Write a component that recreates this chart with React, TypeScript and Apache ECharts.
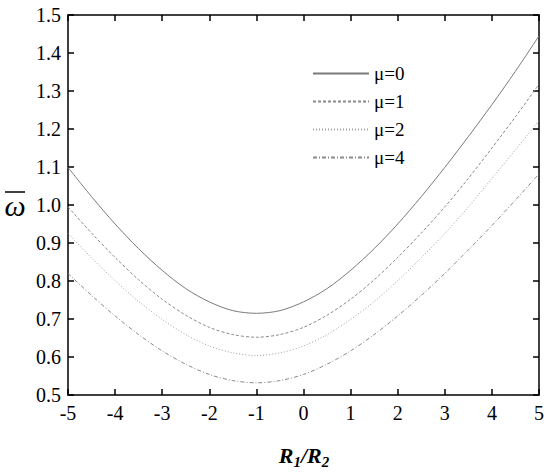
import React, { useEffect, useRef } from "react";
import * as echarts from "echarts";

const xValues = [-5, -4.5, -4, -3.5, -3, -2.5, -2, -1.5, -1, -0.5, 0, 0.5, 1, 1.5, 2, 2.5, 3, 3.5, 4, 4.5, 5];
const mu0 = [1.099, 1.022, 0.95, 0.885, 0.828, 0.78, 0.745, 0.722, 0.715, 0.722, 0.745, 0.78, 0.828, 0.885, 0.95, 1.022, 1.099, 1.18, 1.264, 1.352, 1.445];
const mu1 = [0.995, 0.926, 0.862, 0.803, 0.752, 0.71, 0.678, 0.659, 0.652, 0.659, 0.678, 0.71, 0.752, 0.803, 0.862, 0.926, 0.995, 1.07, 1.15, 1.232, 1.318];
const mu2 = [0.925, 0.861, 0.801, 0.746, 0.699, 0.659, 0.629, 0.611, 0.604, 0.611, 0.629, 0.659, 0.699, 0.746, 0.801, 0.861, 0.925, 0.995, 1.07, 1.145, 1.222];
const mu4 = [0.82, 0.762, 0.708, 0.659, 0.616, 0.581, 0.554, 0.538, 0.532, 0.538, 0.554, 0.581, 0.616, 0.659, 0.708, 0.762, 0.82, 0.882, 0.946, 1.013, 1.082];
const seriesNames = ["μ=0", "μ=1", "μ=2", "μ=4"];

const FONT = "Liberation Serif";
const labelRich = { t: { fontFamily: FONT, fontSize: 20, color: "#000", fill: "#000" } };
const legendRich = { t: { fontFamily: FONT, fontSize: 19, color: "#000", fill: "#000" } };

export default function App() {
  const ref = useRef<HTMLDivElement>(null);

  useEffect(() => {
    if (!ref.current) return;
    const chart = echarts.init(ref.current, null, { renderer: "svg" });
    const all = [mu0, mu1, mu2, mu4];
    const dashes: any[] = ["solid", [3, 2], [1, 2], [4, 2, 1, 2]];
    const colors = ["#7a7a7a", "#8a8a8a", "#a0a0a0", "#8a8a8a"];

    const axisCommon = {
      type: "value" as const,
      axisLine: { show: true, onZero: false, lineStyle: { color: "#000", width: 1.5 } },
      axisTick: { show: true, inside: true, length: 6, lineStyle: { color: "#000", width: 1.5 } },
      splitLine: { show: false },
    };

    chart.setOption({
      animation: false,
      backgroundColor: "#fff",
      textStyle: { fontFamily: FONT },
      grid: { left: 68, right: 11, top: 15, bottom: 80, containLabel: false },
      legend: {
        orient: "vertical",
        left: 307,
        top: 59,
        itemWidth: 56,
        itemHeight: 14,
        itemGap: 9,
        data: seriesNames,
        itemStyle: { opacity: 0 },
        formatter: (n: string) => `{t|${n}}`,
        textStyle: { fontFamily: FONT, fontSize: 19, color: "#000", rich: legendRich },
      },
      xAxis: [
        {
          ...axisCommon,
          min: -5,
          max: 5,
          interval: 1,
          position: "bottom",
          axisLabel: {
            show: true,
            margin: 8,
            fontFamily: FONT,
            fontSize: 20,
            color: "#000",
            formatter: (v: number) => `{t|${v}}`,
            rich: labelRich,
          },
        },
        {
          ...axisCommon,
          min: -5,
          max: 5,
          interval: 1,
          position: "top",
          axisLabel: { show: false },
        },
      ],
      yAxis: [
        {
          ...axisCommon,
          min: 0.5,
          max: 1.5,
          interval: 0.1,
          position: "left",
          axisLabel: {
            show: true,
            margin: 7,
            fontFamily: FONT,
            fontSize: 20,
            color: "#000",
            formatter: (v: number) => `{t|${v.toFixed(1)}}`,
            rich: labelRich,
          },
        },
        {
          ...axisCommon,
          min: 0.5,
          max: 1.5,
          interval: 0.1,
          position: "right",
          axisLabel: { show: false },
        },
      ],
      series: all.map((vals, i) => ({
        name: seriesNames[i],
        type: "line",
        xAxisIndex: 0,
        yAxisIndex: 0,
        smooth: 0.3,
        symbol: "none",
        showSymbol: false,
        data: xValues.map((x, j) => [x, vals[j]]),
        lineStyle: { color: colors[i], width: 1, type: dashes[i] },
        itemStyle: { color: colors[i] },
      })),
      graphic: [
        {
          type: "text",
          x: 15,
          y: 203,
          style: {
            text: "{o| }\n{w|ω}",
            align: "center",
            verticalAlign: "middle",
            rich: {
              o: { width: 20, height: 1.5, lineHeight: 4, backgroundColor: "#000", fontSize: 1 },
              w: { fontFamily: FONT, fontStyle: "italic", fontSize: 30, lineHeight: 22, fill: "#000" },
            },
          },
        },
        {
          type: "text",
          x: 304,
          y: 455,
          style: {
            text: "{r|R}{s|1}{r|/R}{s|2}",
            align: "center",
            verticalAlign: "middle",
            rich: {
              r: {
                fontFamily: FONT,
                fontStyle: "italic",
                fontWeight: "bold",
                fontSize: 22,
                lineHeight: 28,
                fill: "#000",
              },
              s: {
                fontFamily: FONT,
                fontStyle: "italic",
                fontWeight: "bold",
                fontSize: 15,
                lineHeight: 15,
                verticalAlign: "bottom",
                fill: "#000",
              },
            },
          },
        },
      ],
    });

    return () => chart.dispose();
  }, []);

  return (
    <div
      ref={ref}
      style={{ position: "fixed", left: 0, top: 0, width: 550, height: 475 }}
    />
  );
}
